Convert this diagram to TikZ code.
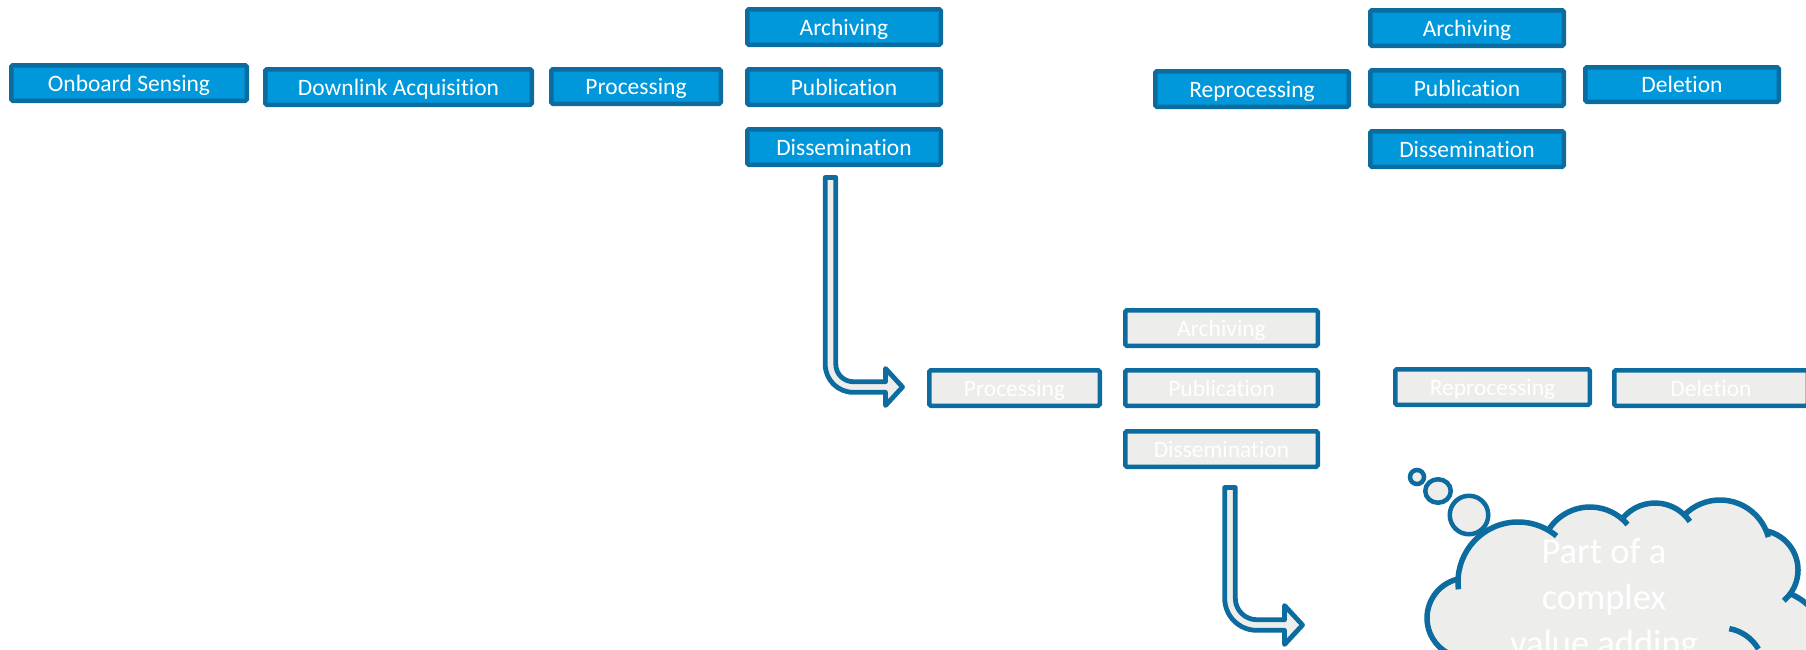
\documentclass[tikz,border=0pt]{standalone}
\usepackage{fontspec}
\setmainfont{Carlito}[Ligatures=NoCommon]
\definecolor{bfill}{HTML}{0098DA}
\definecolor{bline}{HTML}{0C6CA0}
\definecolor{gfill}{HTML}{EDEDEB}
\tikzset{
  box/.style={rectangle, draw=bline, line width=4.5pt, rounded corners=1.5pt, inner sep=0pt,
    minimum height=35.5pt, text=white, font=\fontsize{23.5}{28}\selectfont,
    text height=18.6pt, text depth=2pt},
  bluebox/.style={box, fill=bfill},
  greybox/.style={box, fill=gfill},
  blockarrow/.style={draw=bline, fill=gfill, line width=4.8pt, line join=round},
  cloudline/.style={draw=bline, line width=5.5pt},
  bubble/.style={draw=bline, fill=gfill, line width=4.5pt},
  cloudtext/.style={text=white, font=\fontsize{36.5}{44}\selectfont, anchor=base, inner sep=0pt}
}
\begin{document}
\begin{tikzpicture}[x=1pt,y=-1pt]
\useasboundingbox (0,0) rectangle (1806,649);
\clip (0,0) rectangle (1806,649);

% top row
\node[bluebox, minimum width=235.5pt] (onb) at (129,83) {Onboard Sensing};
\node[bluebox, minimum width=266.5pt] (dla) at (398.5,87) {Downlink Acquisition};
\node[bluebox, minimum width=169.5pt, minimum height=34.5pt] (pro1) at (636,86.5) {Processing};
\node[bluebox, minimum width=193.5pt] (arc1) at (844,27) {Archiving};
\node[bluebox, minimum width=193.5pt] (pub1) at (844,87) {Publication};
\node[bluebox, minimum width=193.5pt] (dis1) at (844,147) {Dissemination};
\node[bluebox, minimum width=193.5pt] (rep1) at (1252,89) {Reprocessing};
\node[bluebox, minimum width=193.5pt] (arc2) at (1467,28) {Archiving};
\node[bluebox, minimum width=193.5pt] (pub2) at (1467,88) {Publication};
\node[bluebox, minimum width=193.5pt] (dis2) at (1467,149) {Dissemination};
\node[bluebox, minimum width=193.5pt, minimum height=34.5pt] (del1) at (1682,84.5) {Deletion};

% second row
\node[greybox, minimum width=170.5pt] (pro2) at (1014.5,388) {Processing};
\node[greybox, minimum width=192.5pt] (arc3) at (1221.5,328) {Archiving};
\node[greybox, minimum width=192.5pt] (pub3) at (1221.5,388) {Publication};
\node[greybox, minimum width=192.5pt] (dis3) at (1221.5,449) {Dissemination};
\node[greybox, minimum width=194.5pt] (rep3) at (1492.5,387) {Reprocessing};
\node[greybox, minimum width=193.5pt] (del3) at (1711,388) {Deletion};

% bent block arrows
\draw[blockarrow] (825.2,177.5) -- (825.2,364.3) arc[start angle=180,end angle=90,radius=28]
  -- (885.5,392.3) -- (885.5,405.5) -- (902.5,387) -- (885.5,368.5) -- (885.5,381.7)
  -- (853.2,381.7) arc[start angle=90,end angle=180,radius=17.4] -- (835.8,177.5) -- cycle;
\draw[blockarrow] (1224.7,487.5) -- (1224.7,598.3) arc[start angle=180,end angle=90,radius=32]
  -- (1284.5,630.3) -- (1284.5,644.5) -- (1302.5,625) -- (1284.5,605.5) -- (1284.5,619.7)
  -- (1256.7,619.7) arc[start angle=90,end angle=180,radius=21.4] -- (1235.3,487.5) -- cycle;

% thought bubbles
\draw[bubble] (1417,477) circle[radius=7];
\draw[bubble] (1438,491) ellipse[x radius=12.75, y radius=11.75];
\draw[bubble] (1469,515) circle[radius=19.25];

% cloud
\coordinate (b1) at (1467,618);
\coordinate (b2) at (1518,582);
\coordinate (b3) at (1590,556);
\coordinate (b4) at (1655,545);
\coordinate (b5) at (1720,550);
\coordinate (b6) at (1758,570);
\coordinate (b7) at (1770,645);
\fill[gfill] (b1) circle[radius=40] (b2) circle[radius=60] (b3) circle[radius=49]
  (b4) circle[radius=42] (b5) circle[radius=50] (b6) circle[radius=40] (b7) circle[radius=55];
\fill[gfill] (b1) -- (b2) -- (b3) -- (b4) -- (b5) -- (b6) -- (b7) -- (1770,700) -- (1467,700) -- cycle;
\draw[cloudline] (b1) ++(257.1:40) arc[start angle=257.1,end angle=100,radius=40];
\draw[cloudline] (b2) ++(173:60) arc[start angle=173,end angle=310,radius=60];
\draw[cloudline] (b3) ++(211.8:49) arc[start angle=211.8,end angle=320,radius=49];
\draw[cloudline] (b4) ++(218.4:42) arc[start angle=218.4,end angle=326,radius=42];
\draw[cloudline] (b5) ++(224.5:50) arc[start angle=224.5,end angle=345,radius=50];
\draw[cloudline] (b6) ++(281.8:40) arc[start angle=281.8,end angle=410,radius=40];
\draw[cloudline] (b7) ++(291.4:55) arc[start angle=291.4,end angle=400,radius=55];
\draw[cloudline] (1722,670) ++(280:42) arc[start angle=280,end angle=330,radius=42];

\node[cloudtext] (ct1) at (1604,563.5) {Part of a};
\node[cloudtext] (ct2) at (1604,609.5) {complex};
\node[cloudtext] (ct3) at (1604,655.5) {value adding};
\end{tikzpicture}
\end{document}
